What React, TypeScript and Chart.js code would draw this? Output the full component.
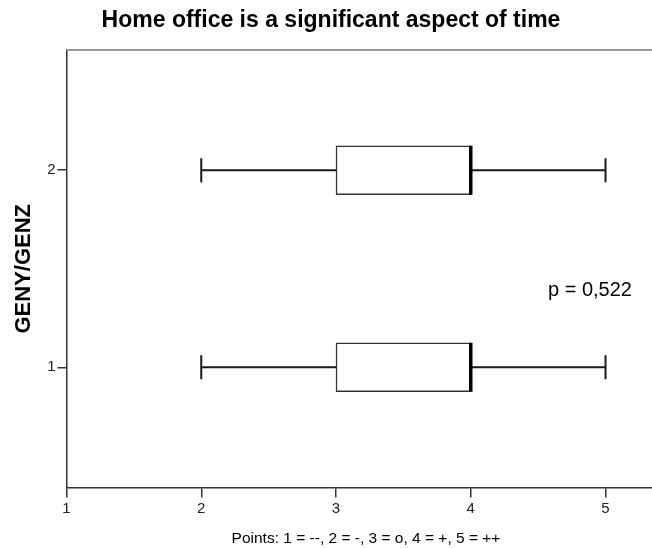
import React, { useEffect, useRef } from "react";
import { Chart, registerables } from "chart.js";

Chart.register(...registerables);

// ---- data ----
const groups = [1, 2];
const whiskerLow = [2, 2];
const quartile1 = [3, 3];
const medians = [4, 4];
const quartile3 = [4, 4];
const whiskerHigh = [5, 5];
const xTicks = [1, 2, 3, 4, 5];
const yTicks = [1, 2];
const chartTitle = "Home office is a significant aspect of time";
const yTitle = "GENY/GENZ";
const xTitle = "Points: 1 = --, 2 = -, 3 = o, 4 = +, 5 = ++";
const pValueLabel = "p = 0,522";

const FONT = "'Liberation Sans', Arial, sans-serif";
const BOX_THICKNESS = 49;
const CAP = 24;

const boxPlugin = {
  id: "boxExtras",
  afterDatasetsDraw(chart: any) {
    const { ctx, chartArea } = chart;
    const x = chart.scales.x;
    const y = chart.scales.y;
    ctx.save();
    // top frame line
    ctx.strokeStyle = "#9a9a9a";
    ctx.lineWidth = 2;
    ctx.beginPath();
    ctx.moveTo(chartArea.left, chartArea.top);
    ctx.lineTo(chartArea.right, chartArea.top);
    ctx.stroke();

    groups.forEach((g, i) => {
      const py = y.getPixelForValue(g);
      const xl = x.getPixelForValue(whiskerLow[i]);
      const x1 = x.getPixelForValue(quartile1[i]);
      const x3 = x.getPixelForValue(quartile3[i]);
      const xh = x.getPixelForValue(whiskerHigh[i]);
      const xm = x.getPixelForValue(medians[i]);
      ctx.strokeStyle = "#1a1a1a";
      ctx.lineWidth = 2;
      ctx.beginPath();
      ctx.moveTo(xl, py);
      ctx.lineTo(x1, py);
      ctx.moveTo(x3, py);
      ctx.lineTo(xh, py);
      ctx.moveTo(xl, py - CAP / 2);
      ctx.lineTo(xl, py + CAP / 2);
      ctx.moveTo(xh, py - CAP / 2);
      ctx.lineTo(xh, py + CAP / 2);
      ctx.stroke();
      ctx.strokeStyle = "#000";
      ctx.lineWidth = 3.5;
      ctx.beginPath();
      ctx.moveTo(xm, py - BOX_THICKNESS / 2);
      ctx.lineTo(xm, py + BOX_THICKNESS / 2);
      ctx.stroke();
    });

    ctx.fillStyle = "#000";
    ctx.textBaseline = "middle";
    // title
    ctx.font = `bold 23px ${FONT}`;
    ctx.textAlign = "center";
    ctx.fillText(chartTitle, 331, 21);
    // x label
    ctx.font = `15.5px ${FONT}`;
    ctx.fillText(xTitle, 366, 539);
    // p value
    ctx.font = `20px ${FONT}`;
    ctx.textAlign = "left";
    ctx.fillText(pValueLabel, 548, 290);
    // y title
    ctx.save();
    ctx.translate(24, (chartArea.top + chartArea.bottom) / 2);
    ctx.rotate(-Math.PI / 2);
    ctx.font = `bold 22px ${FONT}`;
    ctx.textAlign = "center";
    ctx.fillText(yTitle, 0, 0);
    ctx.restore();

    ctx.restore();
  },
};

export default function App() {
  const ref = useRef<HTMLCanvasElement>(null);
  useEffect(() => {
    document.body.style.margin = "0";
    const chart = new Chart(ref.current as HTMLCanvasElement, {
      type: "bar",
      data: {
        datasets: [
          {
            data: groups.map((g, i) => ({ y: g, x: [quartile1[i], quartile3[i]] })) as any,
            backgroundColor: "#ffffff",
            borderColor: "#333333",
            borderWidth: 1.5,
            borderSkipped: false,
            barThickness: BOX_THICKNESS,
          },
        ],
      },
      options: {
        indexAxis: "y",
        animation: false,
        responsive: false,
        devicePixelRatio: 1,
        layout: { padding: { top: 50, left: 0, right: 0, bottom: 0 } },
        plugins: {
          legend: { display: false },
          tooltip: { enabled: false },
          title: { display: false },
        },
        scales: {
          x: {
            type: "linear",
            min: 1,
            max: 5.345,
            offset: false,
            afterBuildTicks: (s: any) => {
              s.ticks = xTicks.map((v) => ({ value: v }));
            },
            afterFit: (s: any) => {
              s.height = 60.5;
            },
            grid: {
              offset: false,
              drawOnChartArea: false,
              drawTicks: true,
              tickLength: 10,
              color: "#333",
              lineWidth: 1.5,
            },
            border: { display: true, color: "#333", width: 1.5 },
            ticks: {
              color: "#222",
              font: { family: FONT, size: 15 },
              padding: 2,
              maxRotation: 0,
            },
          },
          y: {
            type: "linear",
            min: 0.39,
            max: 2.61,
            offset: false,
            afterBuildTicks: (s: any) => {
              s.ticks = yTicks.map((v) => ({ value: v }));
            },
            afterFit: (s: any) => {
              s.width = 66.5;
            },
            grid: {
              offset: false,
              drawOnChartArea: false,
              drawTicks: true,
              tickLength: 9,
              color: "#333",
              lineWidth: 1.5,
            },
            border: { display: true, color: "#333", width: 1.5 },
            ticks: {
              color: "#222",
              font: { family: FONT, size: 15 },
              padding: 2,
            },
          },
        },
      },
      plugins: [boxPlugin],
    });
    return () => chart.destroy();
  }, []);
  return (
    <div style={{ width: 652, height: 548 }}>
      <canvas ref={ref} width={652} height={548} />
    </div>
  );
}
